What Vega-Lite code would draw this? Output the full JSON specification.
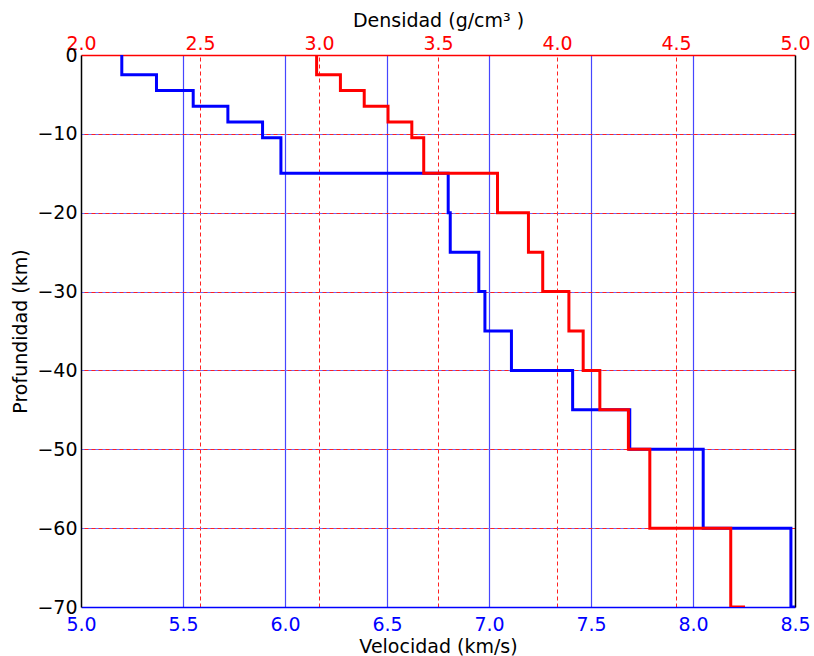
{
  "$schema": "https://vega.github.io/schema/vega-lite/v6.json",
  "autosize": "none",
  "width": 714,
  "height": 552,
  "padding": {"left": 81, "top": 55, "right": 19, "bottom": 49},
  "background": "white",
  "config": {
    "font": "DejaVu Sans",
    "view": {"stroke": null},
    "axis": {"labelFont": "DejaVu Sans", "titleFont": "DejaVu Sans", "labelFontSize": 19, "titleFontSize": 19, "titleFontWeight": "normal", "ticks": false, "labelOverlap": false, "labelFlush": false}
  },
  "data": {
    "values": [
      {"k": 0, "top": 0, "bottom": -2.5, "vp": 5.2, "rho": 2.99},
      {"k": 1, "top": -2.5, "bottom": -4.5, "vp": 5.37, "rho": 3.09},
      {"k": 2, "top": -4.5, "bottom": -6.5, "vp": 5.55, "rho": 3.19},
      {"k": 3, "top": -6.5, "bottom": -8.5, "vp": 5.72, "rho": 3.29},
      {"k": 4, "top": -8.5, "bottom": -10.5, "vp": 5.89, "rho": 3.39},
      {"k": 5, "top": -10.5, "bottom": -15, "vp": 5.98, "rho": 3.44},
      {"k": 6, "top": -15, "bottom": -20, "vp": 6.8, "rho": 3.75},
      {"k": 7, "top": -20, "bottom": -25, "vp": 6.81, "rho": 3.88},
      {"k": 8, "top": -25, "bottom": -30, "vp": 6.95, "rho": 3.94},
      {"k": 9, "top": -30, "bottom": -35, "vp": 6.98, "rho": 4.05},
      {"k": 10, "top": -35, "bottom": -40, "vp": 7.11, "rho": 4.11},
      {"k": 11, "top": -40, "bottom": -45, "vp": 7.41, "rho": 4.18},
      {"k": 12, "top": -45, "bottom": -50, "vp": 7.69, "rho": 4.3},
      {"k": 13, "top": -50, "bottom": -60, "vp": 8.05, "rho": 4.39},
      {"k": 14, "top": -60, "bottom": -70, "vp": 8.48, "rho": 4.73},
      {"k": 15, "top": -70, "bottom": -70, "vp": 8.5, "rho": 4.79}
    ]
  },
  "transform": [
    {"fold": ["top", "bottom"], "as": ["edge", "depth"]}
  ],
  "layer": [
    {
      "mark": {"type": "line", "color": "#0000ff", "strokeWidth": 3, "clip": true, "strokeJoin": "miter"},
      "encoding": {
        "x": {
          "field": "vp", "type": "quantitative",
          "scale": {"domain": [5, 8.5], "nice": false, "zero": false},
          "axis": {
            "orient": "bottom", "title": "Velocidad (km/s)",
            "values": [5, 5.5, 6, 6.5, 7, 7.5, 8, 8.5], "format": ".1f",
            "labelColor": "#0000ff", "domainColor": "#0000ff", "domainWidth": 1.5,
            "grid": true, "gridWidth": 1.2,
            "gridColor": {"condition": {"test": "datum.value <= 5 || datum.value >= 8.5", "value": "transparent"}, "value": "#4646ff"},
            "labelPadding": 8, "titlePadding": 3, "titleColor": "black"
          }
        },
        "y": {
          "field": "depth", "type": "quantitative",
          "scale": {"domain": [-70, 0], "nice": false, "zero": false},
          "axis": {
            "orient": "left", "title": "Profundidad (km)",
            "values": [0, -10, -20, -30, -40, -50, -60, -70],
            "labelColor": "black", "domainColor": "black", "domainWidth": 1.5,
            "grid": true, "gridWidth": 1.2,
            "gridColor": {"condition": {"test": "datum.value >= 0 || datum.value <= -70", "value": "transparent"}, "value": "#6a6aff"},
            "labelPadding": 4, "titlePadding": 6, "titleColor": "black"
          }
        },
        "order": [{"field": "depth", "sort": "descending"}, {"field": "k", "sort": "ascending"}]
      }
    },
    {
      "mark": {"type": "line", "color": "#ff0000", "strokeWidth": 3, "clip": true, "strokeJoin": "miter"},
      "encoding": {
        "x": {
          "field": "rho", "type": "quantitative",
          "scale": {"domain": [2, 5], "nice": false, "zero": false},
          "axis": {
            "orient": "top", "title": "Densidad (g/cm³ )",
            "values": [2, 2.5, 3, 3.5, 4, 4.5, 5], "format": ".1f",
            "labelColor": "#ff0000", "domainColor": "#ff0000", "domainWidth": 1.5,
            "grid": true, "gridWidth": 1, "gridDash": [4, 3],
            "gridColor": {"condition": {"test": "datum.value <= 2 || datum.value >= 5", "value": "transparent"}, "value": "#ff2020"},
            "labelPadding": 2, "titlePadding": 4, "titleColor": "black"
          }
        },
        "y": {
          "field": "depth", "type": "quantitative",
          "scale": {"domain": [-70, 0], "nice": false, "zero": false},
          "axis": {
            "orient": "right", "title": null, "labels": false,
            "values": [-10, -20, -30, -40, -50, -60],
            "domainColor": "black", "domainWidth": 1.5,
            "grid": true, "gridColor": "#ff2020", "gridWidth": 1, "gridDash": [4, 3]
          }
        },
        "order": [{"field": "depth", "sort": "descending"}, {"field": "k", "sort": "ascending"}]
      }
    }
  ],
  "resolve": {
    "scale": {"x": "independent", "y": "independent"},
    "axis": {"x": "independent", "y": "independent"}
  }
}
